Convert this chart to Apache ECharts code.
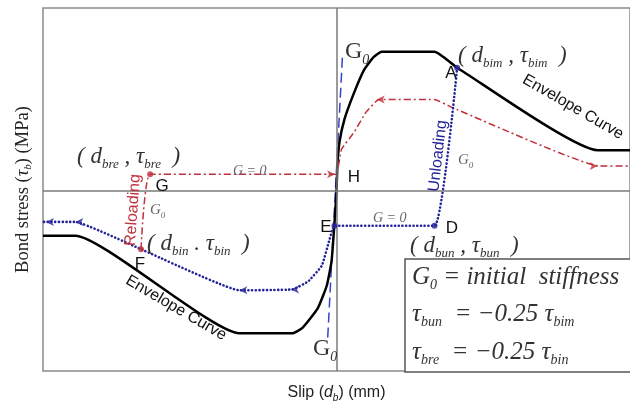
<!DOCTYPE html>
<html>
<head>
<meta charset="utf-8">
<script src="https://cdn.jsdelivr.net/npm/echarts@6/dist/echarts.min.js"></script>
<style>
  html, body { margin: 0; padding: 0; background: #fff; }
  #chart { width: 630px; height: 408px; }
</style>
</head>
<body>
<div id="chart"></div>
<script>
// schematic units (slip, bond stress)
const envelope = [
  [-10, -1.49], [-8.9, -1.49], [-3.31, -4.74], [-1.5, -4.74], [-1.17, -4.57],
  [-0.64, -3.91], [-0.33, -3.15], [-0.17, -2.35], [-0.07, -1.09], [0, 0],
  [0.03, 0.83], [0.1, 1.62], [0.27, 2.39], [0.6, 3.28], [0.94, 4.04],
  [1.27, 4.47], [1.54, 4.64], [3.34, 4.64], [4.11, 4.11], [8.9, 1.36], [10, 1.36]
];
// F -> G -> H -> reloading curve
const reloadPath = [
  [-6.66, -1.94], [-6.35, 0.56], [-0.03, 0.56], [0.17, 1.39], [0.6, 1.96],
  [1.0, 2.62], [1.44, 3.05], [3.34, 3.05], [3.95, 2.78], [8.96, 0.83], [10, 0.83]
];
// A -> D -> E -> unloading curve
const unloadPath = [
  [4.11, 4.11], [3.34, -1.16], [-0.07, -1.16], [-0.23, -1.59], [-0.5, -2.49],
  [-0.97, -3.02], [-1.5, -3.28], [-3.31, -3.31], [-6.66, -1.94], [-8.9, -1.03], [-10, -1.03]
];
const g0Line = [[0.2, 4.44], [-0.3, -4.9]];
const bluePoints = [[4.11, 4.11], [3.34, -1.16], [-0.07, -1.16]]; // A, D, E
const redPoints = [[-6.35, 0.56], [-6.66, -1.94]]; // G, F
// [x, y, direction in degrees]
const redArrows = [[-0.05, 0.56, -90], [1.37, 3.05, 90], [8.9, 0.83, -90]];
const blueArrows = [[-3.31, -3.31, 90], [-1.55, -3.28, 90], [-8.9, -1.03, 90], [-9.9, -1.03, 90]];

const RED = '#c0303a';
const BLUE = '#23239a';
const SERIF = 'Liberation Serif';
const SANS = 'Liberation Sans';

const chart = echarts.init(document.getElementById('chart'));

// rich text styles for math-like labels
function mathRich(size, color) {
  const sub = Math.round(size * 0.58);
  return {
    p: { fontFamily: SERIF, fontStyle: 'italic', fontSize: size, lineHeight: size + 6, fill: color, color: color },
    r: { fontFamily: SERIF, fontSize: size, lineHeight: size + 6, fill: color, color: color },
    s: { fontFamily: SERIF, fontStyle: 'italic', fontSize: sub, lineHeight: sub, verticalAlign: 'bottom', fill: color, color: color }
  };
}
function mathText(x, y, text, size, color) {
  return {
    type: 'text', x: x, y: y, z: 100,
    style: {
      text: text, rich: mathRich(size, color),
      align: 'left', verticalAlign: 'middle', textAlign: 'left', textVerticalAlign: 'middle'
    }
  };
}
function plainText(x, y, text, size, color, rotation) {
  return {
    type: 'text', x: x, y: y, rotation: rotation || 0, z: 100,
    style: {
      text: text, fontFamily: SANS, fontSize: size, fill: color,
      align: 'center', verticalAlign: 'middle', textAlign: 'center', textVerticalAlign: 'middle'
    }
  };
}

const option = {
  animation: false,
  grid: { left: 43, right: -11, top: 8, bottom: 35, show: true, borderColor: '#8a8a8a', borderWidth: 1.5 },
  xAxis: {
    type: 'value', min: -10, max: 10,
    axisLine: { show: false }, axisTick: { show: false }, axisLabel: { show: false }, splitLine: { show: false },
    name: '{a|Slip (}{i|d}{s|b}{a|) (mm)}', nameLocation: 'middle', nameGap: 12,
    nameTextStyle: {
      rich: {
        a: { fontFamily: SANS, fontSize: 16, color: '#222', lineHeight: 20 },
        i: { fontFamily: SANS, fontStyle: 'italic', fontSize: 16, color: '#222', lineHeight: 20 },
        s: { fontFamily: SANS, fontStyle: 'italic', fontSize: 10, color: '#222', lineHeight: 10, verticalAlign: 'bottom' }
      }
    }
  },
  yAxis: {
    type: 'value', min: -6, max: 6.1,
    axisLine: { show: false }, axisTick: { show: false }, axisLabel: { show: false }, splitLine: { show: false },
    name: '{a|Bond stress (}{i|τ}{s|b}{a|) (MPa)}', nameLocation: 'middle', nameGap: 9,
    nameTextStyle: {
      rich: {
        a: { fontFamily: SERIF, fontSize: 18.5, color: '#222', lineHeight: 22 },
        i: { fontFamily: SERIF, fontStyle: 'italic', fontSize: 18.5, color: '#222', lineHeight: 22 },
        s: { fontFamily: SERIF, fontStyle: 'italic', fontSize: 11, color: '#222', lineHeight: 11, verticalAlign: 'bottom' }
      }
    }
  },
  series: [
    {
      name: 'G0', type: 'line', data: g0Line, symbol: 'none', z: 2,
      lineStyle: { color: '#3344cc', width: 1.5, type: [10, 5] },
      markLine: {
        silent: true, symbol: 'none', label: { show: false },
        lineStyle: { color: '#7a7a7a', width: 1.5, type: 'solid' },
        data: [{ xAxis: 0 }, { yAxis: 0 }]
      }
    },
    {
      name: 'Envelope', type: 'line', data: envelope, symbol: 'none', smooth: 0.15, z: 3,
      lineStyle: { color: '#000', width: 2.5 }
    },
    {
      name: 'Reloading', type: 'line', data: reloadPath, symbol: 'none', smooth: 0.1, z: 4,
      lineStyle: { color: RED, width: 1.5, type: [7, 3, 2, 3] }
    },
    {
      name: 'Unloading', type: 'line', data: unloadPath, symbol: 'none', smooth: 0.1, z: 4,
      lineStyle: { color: BLUE, width: 2.6, type: [0.1, 3.6], cap: 'round' }
    },
    {
      type: 'scatter', data: bluePoints, symbol: 'circle', symbolSize: 6, z: 6,
      itemStyle: { color: BLUE }
    },
    {
      type: 'scatter', data: redPoints, symbol: 'circle', symbolSize: 6, z: 6,
      itemStyle: { color: RED }
    },
    {
      type: 'scatter', data: redArrows, symbol: 'arrow', symbolSize: [6, 8], z: 6,
      symbolRotate: v => v[2], itemStyle: { color: RED }
    },
    {
      type: 'scatter', data: blueArrows, symbol: 'arrow', symbolSize: [6, 8], z: 6,
      symbolRotate: v => v[2], itemStyle: { color: BLUE }
    }
  ],
  graphic: [
    // point labels
    plainText(162, 186, 'G', 17, '#111'),
    plainText(354, 177, 'H', 17, '#111'),
    plainText(451, 73, 'A', 17, '#111'),
    plainText(452, 228, 'D', 17, '#111'),
    plainText(326, 227, 'E', 17, '#111'),
    plainText(140, 264, 'F', 17, '#111'),
    // coordinates
    mathText(77, 157, '{p|( d}{s|bre}{p| , τ}{s|bre}{p|  )}', 23, '#333'),
    mathText(458, 56, '{p|( d}{s|bim}{p| , τ}{s|bim}{p|  )}', 23, '#333'),
    mathText(410, 246, '{p|( d}{s|bun}{p| , τ}{s|bun}{p|  )}', 23, '#333'),
    mathText(147, 244, '{p|( d}{s|bin}{p| . τ}{s|bin}{p|  )}', 23, '#333'),
    // stiffness labels
    mathText(233, 171, '{p|G = 0}', 14, '#666'),
    mathText(373, 218, '{p|G = 0}', 14, '#666'),
    mathText(345, 52, '{r|G}{s|0}', 24, '#333'),
    mathText(313, 349, '{r|G}{s|0}', 24, '#333'),
    mathText(458, 160, '{p|G}{s|0}', 15, '#666'),
    mathText(150, 210, '{p|G}{s|0}', 15, '#666'),
    // curve labels
    plainText(573, 107, 'Envelope Curve', 16, '#111', -0.525),
    plainText(176, 308, 'Envelope Curve', 16, '#111', -0.53),
    plainText(438, 156, 'Unloading', 16, BLUE, 1.457),
    plainText(133, 210, 'Reloading', 16, RED, 1.5),
    // legend box
    {
      type: 'rect', shape: { x: 405, y: 259, width: 240, height: 113 }, z: 90,
      style: { fill: '#fff', stroke: '#555', lineWidth: 1.5 }
    },
    mathText(412, 277, '{p|G}{s|0}{p| = initial  stiffness}', 25, '#333'),
    mathText(412, 314, '{p|τ}{s|bun}{p|  = −0.25 τ}{s|bim}', 25, '#333'),
    mathText(412, 352, '{p|τ}{s|bre}{p|  = −0.25 τ}{s|bin}', 25, '#333')
  ]
};

chart.setOption(option);
</script>
</body>
</html>
